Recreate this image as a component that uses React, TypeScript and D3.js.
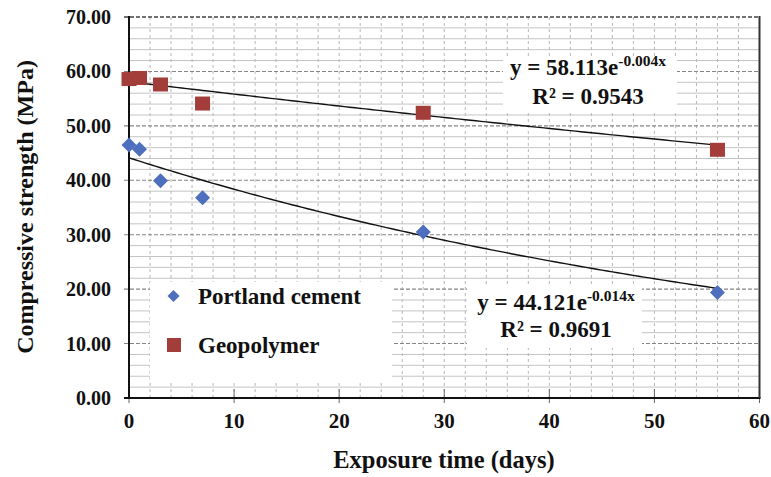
import React from "react";
import * as d3 from "d3";

const days = [0, 1, 3, 7, 28, 56];
const portland = [46.5, 45.7, 39.9, 36.8, 30.5, 19.4];
const geopolymer = [58.6, 58.8, 57.6, 54.1, 52.4, 45.6];
const seriesNames = ["Portland cement", "Geopolymer"];
const fitA = [44.121, 58.113];
const fitB = [-0.014, -0.004];
const fitR2 = ["0.9691", "0.9543"];
const yTicks = [0, 10, 20, 30, 40, 50, 60, 70];
const xTicks = [0, 10, 20, 30, 40, 50, 60];

const W = 771;
const H = 477;
const L = 129, R = 759.5, T = 17, B = 398;
const FONT = "Liberation Serif, Times New Roman, Times, DejaVu Serif, serif";
const BLUE = "#4E6EBE";
const RED = "#A33D3A";

export default function App() {
  const x = d3.scaleLinear().domain([0, 60]).range([L, R]);
  const y = d3.scaleLinear().domain([0, 70]).range([B, T]);
  const minorY = d3.range(2, 70, 2).filter((v) => v % 10 !== 0);
  const vGrid = d3.range(2, 60, 2);
  const fmt = d3.format(".2f");

  const trend = (i: number) => {
    const pts = d3.range(0, 56.01, 0.5).map((d) => [d, fitA[i] * Math.exp(fitB[i] * d)] as [number, number]);
    return d3.line<[number, number]>().x((d) => x(d[0])).y((d) => y(d[1]))(pts) || "";
  };

  const diamond = (cx: number, cy: number, r: number) =>
    `M${cx},${cy - r}L${cx + r},${cy}L${cx},${cy + r}L${cx - r},${cy}Z`;

  const eqBoxes = [
    { x0: 467, y0: 285, x1: 642, y1: 348, cx: 556, b1: 310, b2: 337 },
    { x0: 503, y0: 56, x1: 677, y1: 110, cx: 588, b1: 75, b2: 104 },
  ];

  const txt = { fontFamily: FONT, fontWeight: 700 as const };

  return (
    <svg width={W} height={H} style={{ position: "absolute", left: 0, top: 0, background: "#fff", fontFamily: FONT }}>
      <rect x={0} y={0} width={W} height={H} fill="#fff" />
      {minorY.map((v) => (
        <line key={"mh" + v} x1={L} x2={R} y1={y(v)} y2={y(v)} stroke="#C4C4C4" strokeWidth={1} />
      ))}
      {vGrid.map((v) => (
        <line key={"vg" + v} x1={x(v)} x2={x(v)} y1={T} y2={B} stroke="#B8B8B8" strokeWidth={1} strokeDasharray="3,3" />
      ))}
      {yTicks.filter((v) => v > 0).map((v) => (
        <line key={"mj" + v} x1={L - 5} x2={R} y1={y(v)} y2={y(v)} stroke={v === 70 ? "#444" : "#858585"} strokeWidth={v === 70 ? 1.6 : 1.1} strokeDasharray="4,2" />
      ))}
      {xTicks.map((v) => (
        <line key={"xt" + v} x1={x(v)} x2={x(v)} y1={B - 9} y2={B + 5} stroke="#666" strokeWidth={1} />
      ))}
      <rect x={150} y={282} width={242} height={100} fill="#fff" />
      {eqBoxes.map((b, i) => (
        <rect key={"eb" + i} x={b.x0} y={b.y0} width={b.x1 - b.x0} height={b.y1 - b.y0} fill="#fff" />
      ))}
      <line x1={L} x2={L} y1={T - 1} y2={B + 1} stroke="#111" strokeWidth={2} />
      <line x1={L - 5} x2={R + 1} y1={B} y2={B} stroke="#111" strokeWidth={2} />
      <line x1={R} x2={R} y1={T - 1} y2={B} stroke="#333" strokeWidth={2} />
      {yTicks.map((v) => (
        <text key={"yl" + v} x={111} y={y(v)} dy="0.35em" textAnchor="end" fontSize={20} style={txt} fill="#111">
          {fmt(v)}
        </text>
      ))}
      {xTicks.map((v) => (
        <text key={"xl" + v} x={x(v)} y={428} textAnchor="middle" fontSize={21} style={txt} fill="#111">
          {v}
        </text>
      ))}
      <text x={444} y={468} textAnchor="middle" fontSize={24.5} style={txt} fill="#111">
        Exposure time (days)
      </text>
      <text transform={`translate(33,207) rotate(-90)`} textAnchor="middle" fontSize={24} style={txt} fill="#111">
        Compressive strength (MPa)
      </text>
      {[0, 1].map((i) => (
        <path key={"tr" + i} d={trend(i)} fill="none" stroke="#111" strokeWidth={1.4} />
      ))}
      {days.map((d, i) => (
        <path key={"p" + i} d={diamond(x(d), y(portland[i]), 7.5)} fill={BLUE} />
      ))}
      {days.map((d, i) => (
        <rect key={"g" + i} x={x(d) - 7.5} y={y(geopolymer[i]) - 7} width={15} height={14} fill={RED} />
      ))}
      {eqBoxes.map((b, i) => (
        <g key={"eq" + i} fill="#111">
          <text x={b.cx} y={b.b1} textAnchor="middle" fontSize={23} style={txt}>
            {`y = ${fitA[i].toFixed(3)}e`}
            <tspan fontSize={15.5} dy={-9}>{`${fitB[i].toFixed(3)}x`}</tspan>
          </text>
          <text x={b.cx} y={b.b2} textAnchor="middle" fontSize={23} style={txt}>
            {`R² = ${fitR2[i]}`}
          </text>
        </g>
      ))}
      <path d={diamond(173.5, 296, 6)} fill={BLUE} />
      <text x={198} y={304} fontSize={23} style={txt} fill="#111">{seriesNames[0]}</text>
      <rect x={167} y={338} width={14} height={14} fill={RED} />
      <text x={198} y={353} fontSize={23} style={txt} fill="#111">{seriesNames[1]}</text>
    </svg>
  );
}
